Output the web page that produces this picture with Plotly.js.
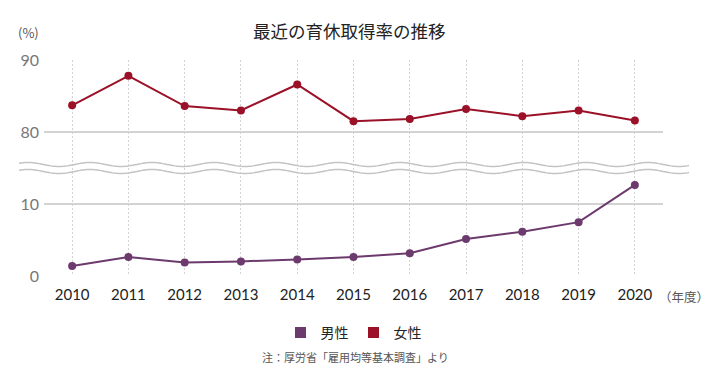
<!DOCTYPE html>
<html>
<head>
<meta charset="utf-8">
<script src="https://cdn.plot.ly/plotly-3.0.1.min.js"></script>
<style>html,body{margin:0;padding:0;background:#fff;}#chart{width:710px;height:380px;}</style>
</head>
<body>
<div id="chart"></div>
<script>
const years = ['2010','2011','2012','2013','2014','2015','2016','2017','2018','2019','2020'];
const male = [1.38, 2.63, 1.89, 2.03, 2.30, 2.65, 3.16, 5.14, 6.16, 7.48, 12.65];
const female = [83.7, 87.8, 83.6, 83.0, 86.6, 81.5, 81.8, 83.2, 82.2, 83.0, 81.6];
const lowerTicks = [0, 10];
const upperTicks = [80, 90];

const FONT = '"Noto Sans CJK JP", "Noto Sans", sans-serif';
const NUMFONT = 'Lato, "Noto Sans", sans-serif';
const PURPLE = '#6c3a6c';
const RED = '#9b1128';

// wavy break lines (decoration) in paper coords
const L = 44, R = 663, T = 60, B = 276;
function px2x(px){ return (px - L) / (R - L); }
function px2y(py){ return (B - py) / (B - T); }
function wave(cy){
  let d = '';
  for (let px = 19; px <= 690; px += 2) {
    const py = cy - 2 * Math.cos(2 * Math.PI * (px - 28) / 62);
    d += (d ? ' L ' : 'M ') + px2x(px).toFixed(5) + ',' + px2y(py).toFixed(5);
  }
  return d;
}

const traces = [
  {x: years, y: male, type: 'scatter', mode: 'lines+markers', yaxis: 'y', showlegend: false,
   line: {color: PURPLE, width: 2}, marker: {color: PURPLE, size: 8}, cliponaxis: false},
  {x: years, y: female, type: 'scatter', mode: 'lines+markers', yaxis: 'y2', showlegend: false,
   line: {color: RED, width: 2}, marker: {color: RED, size: 8}, cliponaxis: false},
  {x: [null], y: [null], type: 'scatter', mode: 'markers', name: '男性', yaxis: 'y',
   marker: {color: PURPLE, size: 11, symbol: 'square'}},
  {x: [null], y: [null], type: 'scatter', mode: 'markers', name: '女性', yaxis: 'y',
   marker: {color: RED, size: 11, symbol: 'square'}}
];

const layout = {
  width: 710, height: 380,
  margin: {l: L, r: 710 - R, t: T, b: 380 - B},
  paper_bgcolor: '#fff', plot_bgcolor: '#fff',
  font: {family: FONT, color: '#333'},
  title: {text: '最近の育休取得率の推移', x: 0.492, xanchor: 'center', y: 0.915, yanchor: 'middle',
          font: {family: FONT, size: 17.5, color: '#222'}},
  xaxis: {type: 'category', categoryorder: 'array', categoryarray: years, range: [-0.5, 10.5],
          showgrid: true, gridcolor: '#d2d2d2', griddash: '2px,2px', gridwidth: 1,
          zeroline: false, showline: false, ticks: '',
          tickfont: {family: NUMFONT, size: 15, color: '#222'}, ticklabelstandoff: 8},
  yaxis: {domain: [0, 0.5], range: [0, 15], tickvals: lowerTicks, ticktext: lowerTicks.map(String),
          showgrid: true, gridcolor: '#d3d3d3', gridwidth: 1.6, zeroline: false, showline: false,
          ticks: '', tickfont: {family: NUMFONT, size: 16, color: '#777'}, ticklabelstandoff: 4},
  yaxis2: {domain: [0.5, 1], range: [75, 90.0001], tickvals: upperTicks, ticktext: upperTicks.map(String),
          showgrid: true, gridcolor: '#d3d3d3', gridwidth: 1.6, zeroline: false, showline: false,
          ticks: '', tickfont: {family: NUMFONT, size: 16, color: '#777'}, ticklabelstandoff: 4},
  showlegend: true,
  legend: {orientation: 'h', x: 0.5, xanchor: 'center', y: px2y(333), yanchor: 'middle',
           font: {family: FONT, size: 14, color: '#222'}, itemwidth: 30, tracegroupgap: 0},
  shapes: [
    {type: 'path', xref: 'paper', yref: 'paper', path: wave(164.5), line: {color: '#c4c4c4', width: 1.5}, layer: 'above'},
    {type: 'path', xref: 'paper', yref: 'paper', path: wave(171.5), line: {color: '#c4c4c4', width: 1.5}, layer: 'above'}
  ],
  annotations: [
    {text: '(%)', xref: 'paper', yref: 'paper', x: px2x(16), xanchor: 'left', y: px2y(32), yanchor: 'middle',
     showarrow: false, font: {family: FONT, size: 13, color: '#555'}},
    {text: '（年度）', xref: 'paper', yref: 'paper', x: px2x(657), xanchor: 'left', y: px2y(296), yanchor: 'middle',
     showarrow: false, font: {family: FONT, size: 12.5, color: '#555'}},
    {text: '注：厚労省「雇用均等基本調査」より', xref: 'paper', yref: 'paper', x: px2x(355), xanchor: 'center', y: px2y(357), yanchor: 'middle',
     showarrow: false, font: {family: FONT, size: 11, color: '#555'}}
  ]
};

Plotly.newPlot('chart', traces, layout, {displayModeBar: false, staticPlot: true});
</script>
</body>
</html>
